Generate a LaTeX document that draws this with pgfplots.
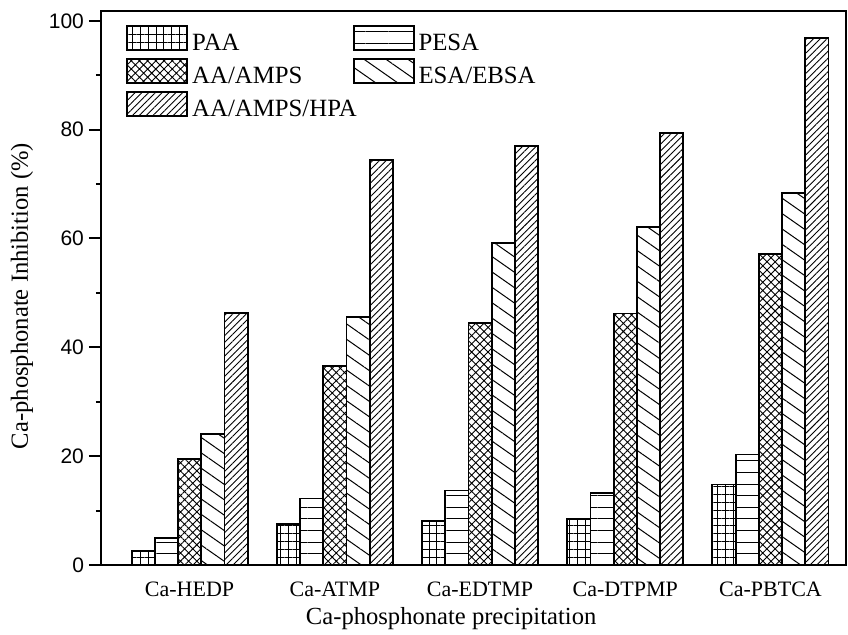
\documentclass[border=0pt]{standalone}
\usepackage{pgfplots}
\pgfplotsset{compat=1.18}
\usepackage{fontspec}
\setmainfont{Liberation Serif}
\newfontfamily\tickfont{Liberation Sans}
\usetikzlibrary{patterns.meta,calc}

\pgfplotsset{
  mylegend/.style={legend image code/.code={\draw[##1] (0pt,-3pt) rectangle (30pt,9pt);}},
  barstyle/.style={draw=black, line width=0.9pt, fill=white},
}

\begin{document}
\begin{tikzpicture}
\begin{axis}[
  name=ax,
  scale only axis,
  width=372.5pt, height=277pt,
  xmin=-0.61, xmax=4.52, ymin=0, ymax=101.8,
  axis line style={line width=1pt},
  ybar=0pt, bar width=0.16,
  xtick={0,1,2,3,4},
  xticklabels={Ca-HEDP,Ca-ATMP,Ca-EDTMP,Ca-DTPMP,Ca-PBTCA},
  x tick style={draw=none},
  xticklabel style={anchor=base, yshift=-10pt, font=\fontsize{11}{13}\selectfont},
  ytick={0,20,...,100},
  minor ytick={10,30,...,90},
  ytick pos=left,
  tick align=outside,
  major tick length=6pt, minor tick length=2.5pt,
  y tick style={line width=1pt, black},
  yticklabel style={font=\tickfont\fontsize{10.5}{12}\selectfont, xshift=1pt},
  /pgf/number format/assume math mode=true,
  ylabel={Ca-phosphonate Inhibition (\%)},
  xlabel={Ca-phosphonate precipitation},
  label style={font=\fontsize{12.3}{14}\selectfont},
  ylabel style={at={(axis description cs:-0.106,0.4856)}, anchor=center},
  xlabel style={at={(axis description cs:0.470,-0.1083)}, anchor=base},
  legend columns=2,
  legend cell align=left,
  legend style={at={(axis description cs:0.0336,0.9755)}, anchor=north west,
    draw=none, fill=none, inner sep=0pt, row sep=1.2pt,
    font=\fontsize{12.4}{14}\selectfont,
    nodes={inner sep=1pt},
    /tikz/every odd column/.style={column sep=1pt},
    /tikz/every even column/.style={column sep=-3pt}},
]
\addplot[barstyle, mylegend, bar shift=-0.32, pattern={Hatch[angle=0,distance=3.9pt,line width=0.4pt]}]
  coordinates {(0,2.6) (1,7.5) (2,8.1) (3,8.5) (4,14.8)};
\addlegendentry{PAA}
\addplot[barstyle, mylegend, bar shift=-0.16, pattern={Lines[angle=0,distance=5.8pt,line width=0.5pt]}]
  coordinates {(0,5.0) (1,12.2) (2,13.7) (3,13.2) (4,20.3)};
\addlegendentry{PESA}
\addplot[barstyle, mylegend, bar shift=0, pattern={Hatch[angle=45,distance=2.9pt,line width=0.45pt]}]
  coordinates {(0,19.5) (1,36.6) (2,44.4) (3,46.2) (4,57.1)};
\addlegendentry{AA/AMPS}
\addplot[barstyle, mylegend, bar shift=0.16, pattern={Lines[angle=-35,distance=6.3pt,line width=0.5pt]}]
  coordinates {(0,24.1) (1,45.6) (2,59.1) (3,62.1) (4,68.3)};
\addlegendentry{ESA/EBSA}
\addplot[barstyle, mylegend, bar shift=0.32, pattern={Lines[angle=45,distance=2.4pt,line width=0.45pt]}]
  coordinates {(0,46.3) (1,74.4) (2,77.0) (3,79.4) (4,96.9)};
\addlegendentry{AA/AMPS/HPA}
\end{axis}
\pgfresetboundingbox
\path[use as bounding box] ($(ax.south west)+(-50.5pt,-35pt)$) rectangle ($(ax.north east)+(1pt,5.5pt)$);
\end{tikzpicture}
\end{document}
